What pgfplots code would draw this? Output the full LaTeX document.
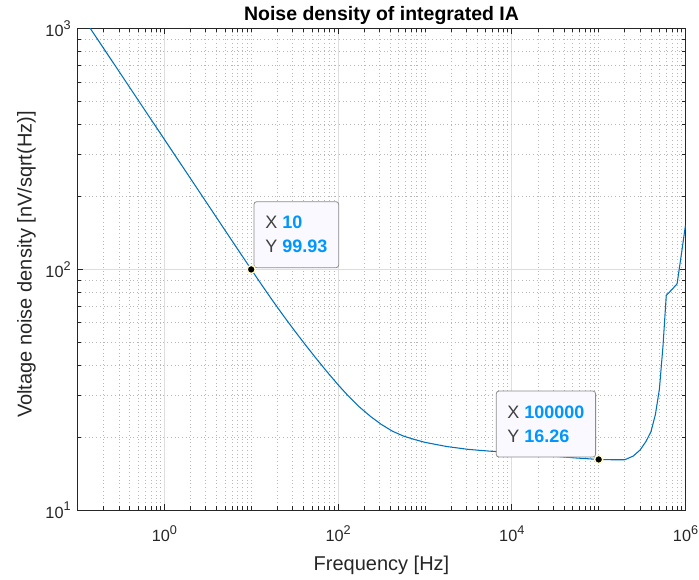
\documentclass[border=0pt]{standalone}
\usepackage{fontspec}
\setmainfont{Liberation Sans}
\usepackage{pgfplots}
\pgfplotsset{compat=1.18}

\definecolor{mlblue}{rgb}{0,0.447,0.741}
\definecolor{axgray}{rgb}{0.15,0.15,0.15}
\definecolor{tipblue}{RGB}{0,150,255}
\definecolor{tiptext}{RGB}{64,64,64}
\definecolor{tipfill}{RGB}{249,249,255}

% power-of-ten tick label in the text font
\newcommand\tp[1]{10\raisebox{0.45em}{\fontsize{9.5}{9.5}\selectfont #1}}

\tikzset{tip/.style={draw=black!45, fill=tipfill, rounded corners=2pt,
    line width=0.6pt, align=left, inner xsep=7.5pt, inner ysep=5pt,
    font=\fontsize{13.5}{18}\selectfont, minimum height=49.5pt}}

\pgfplotstableread{
f        vn
0.1      1201
0.1778   880.5
0.3162   645.3
0.5623   472.8
1        346.5
1.778    253.9
3.162    186.1
5.623    136.3
10       99.93
13.34    85.76
17.78    73.87
23.71    63.93
31.62    55.59
42.17    48.56
56.23    42.58
74.99    37.51
100      33.19
133.4    29.62
177.8    26.77
237.1    24.50
316.2    22.70
421.7    21.31
562.3    20.35
749.9    19.70
1000     19.15
1778     18.40
3162     17.90
5623     17.60
10000    17.36
17780    17.06
31620    16.75
56230    16.48
100000   16.26
150000   16.21
200000   16.22
250000   16.8
300000   17.8
350000   19.3
400000   21.2
450000   25.0
500000   31.8
550000   48.0
600000   78.0
700000   82.6
800000   87.1
900000   117
1000000  153
}\noise

\begin{document}
\begin{tikzpicture}
\begin{loglogaxis}[
  scale only axis,
  width=456pt, height=361.4pt,
  xmin=0.1, xmax=1e6, ymin=10, ymax=1000,
  xtick={1,100,10000,1000000},
  xticklabels={\tp{0},\tp{2},\tp{4},\tp{6}},
  ytick={10,100,1000},
  yticklabels={\tp{1},\tp{2},\tp{3}},
  minor xtick={0.2,0.3,0.4,0.5,0.6,0.7,0.8,0.9,
    2,3,4,5,6,7,8,9,10,20,30,40,50,60,70,80,90,
    200,300,400,500,600,700,800,900,1000,
    2000,3000,4000,5000,6000,7000,8000,9000,
    20000,30000,40000,50000,60000,70000,80000,90000,100000,
    200000,300000,400000,500000,600000,700000,800000,900000},
  minor ytick={20,30,40,50,60,70,80,90,200,300,400,500,600,700,800,900},
  tick align=inside,
  xtick pos=both, ytick pos=both,
  major tick length=4.5pt, minor tick length=3pt,
  every tick/.style={axgray, line width=0.5pt},
  axis line style={axgray, line width=0.6pt},
  grid=both,
  major grid style={black!13, line width=0.5pt},
  minor grid style={black!28, line width=0.5pt, dash pattern=on 0.6pt off 2.2pt},
  ticklabel style={font=\fontsize{12.2}{14}\selectfont, text=axgray},
  xticklabel style={anchor=base, yshift=-23.6pt},
  yticklabel style={xshift=-1.6pt},
  title={Noise density of integrated IA},
  every axis title/.style={font=\bfseries\fontsize{14.6}{17}\selectfont,
    at={(0.5,1)}, anchor=base, yshift=5.8pt},
  xlabel={Frequency [Hz]},
  ylabel={Voltage noise density [nV/sqrt(Hz)]},
  label style={font=\fontsize{15}{18}\selectfont, text=axgray},
  xlabel style={at={(axis description cs:0.5,-0.1242)}, anchor=base},
  ylabel style={at={(axis description cs:-0.0754,0.51)}, anchor=base},
]
\addplot[mlblue, line width=0.8pt] table[x=f, y=vn] {\noise};

% data tips
\addplot[only marks, mark=*, mark size=3pt,
  mark options={fill=black, draw=yellow!22!white, line width=1pt}]
  coordinates {(10,99.93) (100000,16.26)};

\node[tip, anchor=south west, xshift=1.8pt, yshift=1pt, minimum width=63.5pt]
  at (axis cs:10,99.93)
  {{\color{tiptext}X} {\color{tipblue}\bfseries 10}\\
   {\color{tiptext}Y} {\color{tipblue}\bfseries 99.93}};
\node[tip, anchor=south east, xshift=-2pt, yshift=1.5pt, minimum width=74.5pt]
  at (axis cs:100000,16.26)
  {{\color{tiptext}X} {\color{tipblue}\bfseries 100000}\\
   {\color{tiptext}Y} {\color{tipblue}\bfseries 16.26}};
\end{loglogaxis}
\pgfresetboundingbox
\path[use as bounding box]
  ([shift={(-58.1pt,-51.6pt)}]current axis.south west)
  rectangle ([shift={(10.1pt,21.3pt)}]current axis.north east);
\end{tikzpicture}
\end{document}
